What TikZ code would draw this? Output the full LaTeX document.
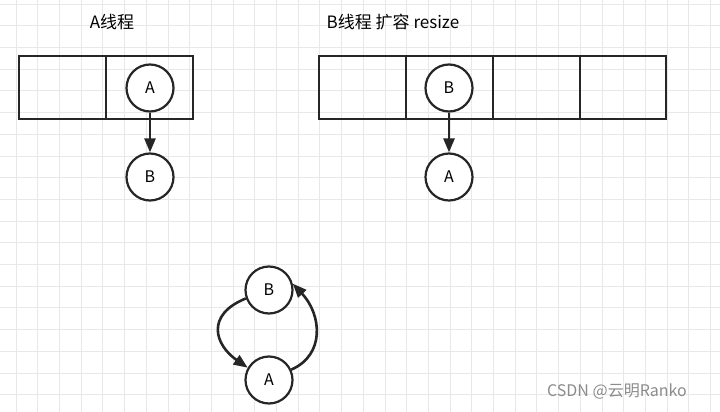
\documentclass[tikz,border=0pt]{standalone}
\usepackage{fontspec}
\setmainfont{Noto Sans CJK SC}
\usetikzlibrary{arrows.meta}
\begin{document}
\begin{tikzpicture}[x=1pt,y=-1pt,
  cell/.style={draw=black!85,line width=2.4pt},
  ball/.style={circle,draw=black!85,line width=2.2pt,fill=white,minimum size=47pt,inner sep=0pt,font=\fontsize{16}{16}\selectfont},
  link/.style={draw=black!85,line width=2.6pt,-{Triangle[length=14pt,width=11pt]}},
  lbl/.style={font=\fontsize{17}{17}\selectfont}]
\useasboundingbox (0,0) rectangle (720,412);
\fill[white] (0,0) rectangle (720,412);
\foreach \i in {0,...,33} {\draw[black!9,line width=0.8pt] (\i*21.7+16,0) -- (\i*21.7+16,412);}
\foreach \j in {0,...,19} {\draw[black!9,line width=0.8pt] (0,\j*21.7+4) -- (720,\j*21.7+4);}
\draw[cell] (19,56) rectangle (193,119);
\draw[cell] (106,56) -- (106,119);
\draw[cell] (319,56) rectangle (666,119);
\foreach \x in {406,493,580} \draw[cell] (\x,56) -- (\x,119);
\node[lbl] (t1) at (112,22) {A线程};
\node[lbl] (t2) at (393,22) {B线程 扩容 resize};
\node[ball] (a1) at (150,88) {A};
\node[ball] (b1) at (150,177) {B};
\node[ball] (b2) at (449,88) {B};
\node[ball] (a2) at (449,177) {A};
\node[ball] (b3) at (269,290) {B};
\node[ball] (a3) at (269,380) {A};
\draw[link] (a1) -- (b1);
\draw[link] (b2) -- (a2);
\draw[link] (b3.200) .. controls (205,315) and (215,345) .. (a3.150);
\draw[link] (a3.25) .. controls (325,355) and (322,315) .. (b3.15);
\node[text=black!45,font=\fontsize{16}{16}\selectfont] (wm) at (617,392) {CSDN @云明Ranko};
\end{tikzpicture}
\end{document}
